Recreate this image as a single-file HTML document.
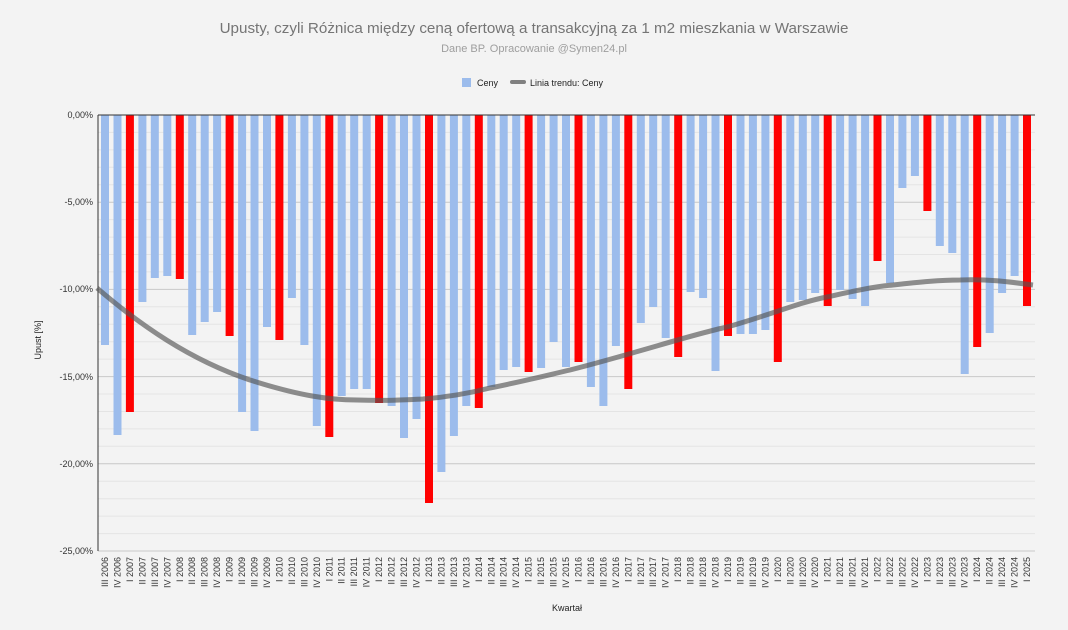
<!DOCTYPE html>
<html><head><meta charset="utf-8"><style>
html,body{margin:0;padding:0;background:#f3f3f3;}
svg{display:block;font-family:"Liberation Sans",Arial,sans-serif;}
</style></head><body>
<svg width="1068" height="630" viewBox="0 0 1068 630" xmlns="http://www.w3.org/2000/svg">
<rect width="1068" height="630" fill="#f3f3f3"/>
<text x="534" y="33" text-anchor="middle" font-size="15.2" fill="#757575">Upusty, czyli Różnica między ceną ofertową a transakcyjną za 1 m2 mieszkania w Warszawie</text>
<text x="534" y="52" text-anchor="middle" font-size="11" fill="#9e9e9e">Dane BP. Opracowanie @Symen24.pl</text>
<rect x="462" y="78" width="9" height="9" fill="#9cbcec"/>
<text x="477" y="86" font-size="9" fill="#222">Ceny</text>
<line x1="512" y1="82" x2="524" y2="82" stroke="#808080" stroke-width="4" stroke-linecap="round"/>
<text x="530" y="86" font-size="9" fill="#222">Linia trendu: Ceny</text>
<g stroke="#e4e4e4" stroke-width="1">
<line x1="98" y1="132.4" x2="1035" y2="132.4"/><line x1="98" y1="149.9" x2="1035" y2="149.9"/><line x1="98" y1="167.3" x2="1035" y2="167.3"/><line x1="98" y1="184.8" x2="1035" y2="184.8"/>
<line x1="98" y1="219.6" x2="1035" y2="219.6"/><line x1="98" y1="237.1" x2="1035" y2="237.1"/><line x1="98" y1="254.5" x2="1035" y2="254.5"/><line x1="98" y1="271.9" x2="1035" y2="271.9"/>
<line x1="98" y1="306.8" x2="1035" y2="306.8"/><line x1="98" y1="324.3" x2="1035" y2="324.3"/><line x1="98" y1="341.7" x2="1035" y2="341.7"/><line x1="98" y1="359.1" x2="1035" y2="359.1"/>
<line x1="98" y1="394" x2="1035" y2="394"/><line x1="98" y1="411.5" x2="1035" y2="411.5"/><line x1="98" y1="428.9" x2="1035" y2="428.9"/><line x1="98" y1="446.3" x2="1035" y2="446.3"/>
<line x1="98" y1="481.2" x2="1035" y2="481.2"/><line x1="98" y1="498.7" x2="1035" y2="498.7"/><line x1="98" y1="516.1" x2="1035" y2="516.1"/><line x1="98" y1="533.6" x2="1035" y2="533.6"/>
</g>
<g stroke="#c8c8c8" stroke-width="1">
<line x1="98" y1="202.2" x2="1035" y2="202.2"/><line x1="98" y1="289.4" x2="1035" y2="289.4"/><line x1="98" y1="376.6" x2="1035" y2="376.6"/><line x1="98" y1="463.8" x2="1035" y2="463.8"/><line x1="98" y1="551" x2="1035" y2="551"/>
</g>
<g font-size="9" fill="#333" text-anchor="end">
<text x="93" y="118">0,00%</text><text x="93" y="205">-5,00%</text><text x="93" y="292">-10,00%</text><text x="93" y="380">-15,00%</text><text x="93" y="467">-20,00%</text><text x="93" y="554">-25,00%</text>
</g>
<text transform="translate(41,340) rotate(-90)" text-anchor="middle" font-size="9" fill="#222">Upust [%]</text>
<text x="567" y="611" text-anchor="middle" font-size="9" fill="#222">Kwartał</text>
<g fill="#9cbcec">
<rect x="101" y="115" width="8" height="230"/>
<rect x="113.5" y="115" width="8" height="320"/>
<rect x="138.4" y="115" width="8" height="187"/>
<rect x="150.8" y="115" width="8" height="163"/>
<rect x="163.3" y="115" width="8" height="161"/>
<rect x="188.2" y="115" width="8" height="220"/>
<rect x="200.7" y="115" width="8" height="207"/>
<rect x="213.1" y="115" width="8" height="197"/>
<rect x="238.1" y="115" width="8" height="297"/>
<rect x="250.5" y="115" width="8" height="316"/>
<rect x="263" y="115" width="8" height="212"/>
<rect x="287.9" y="115" width="8" height="183"/>
<rect x="300.4" y="115" width="8" height="230"/>
<rect x="312.8" y="115" width="8" height="311"/>
<rect x="337.7" y="115" width="8" height="281"/>
<rect x="350.2" y="115" width="8" height="274"/>
<rect x="362.7" y="115" width="8" height="274"/>
<rect x="387.6" y="115" width="8" height="291"/>
<rect x="400" y="115" width="8" height="323"/>
<rect x="412.5" y="115" width="8" height="304"/>
<rect x="437.4" y="115" width="8" height="357"/>
<rect x="449.9" y="115" width="8" height="321"/>
<rect x="462.3" y="115" width="8" height="291"/>
<rect x="487.3" y="115" width="8" height="272"/>
<rect x="499.7" y="115" width="8" height="255"/>
<rect x="512.2" y="115" width="8" height="252"/>
<rect x="537.1" y="115" width="8" height="253"/>
<rect x="549.6" y="115" width="8" height="227"/>
<rect x="562" y="115" width="8" height="252"/>
<rect x="586.9" y="115" width="8" height="272"/>
<rect x="599.4" y="115" width="8" height="291"/>
<rect x="611.9" y="115" width="8" height="231"/>
<rect x="636.8" y="115" width="8" height="208"/>
<rect x="649.2" y="115" width="8" height="192"/>
<rect x="661.7" y="115" width="8" height="223"/>
<rect x="686.6" y="115" width="8" height="177"/>
<rect x="699.1" y="115" width="8" height="183"/>
<rect x="711.5" y="115" width="8" height="256"/>
<rect x="736.5" y="115" width="8" height="219"/>
<rect x="748.9" y="115" width="8" height="219"/>
<rect x="761.4" y="115" width="8" height="215"/>
<rect x="786.3" y="115" width="8" height="187"/>
<rect x="798.8" y="115" width="8" height="185"/>
<rect x="811.2" y="115" width="8" height="178"/>
<rect x="836.1" y="115" width="8" height="175"/>
<rect x="848.6" y="115" width="8" height="184"/>
<rect x="861.1" y="115" width="8" height="191"/>
<rect x="886" y="115" width="8" height="168"/>
<rect x="898.4" y="115" width="8" height="73"/>
<rect x="910.9" y="115" width="8" height="61"/>
<rect x="935.8" y="115" width="8" height="131"/>
<rect x="948.3" y="115" width="8" height="138"/>
<rect x="960.7" y="115" width="8" height="259"/>
<rect x="985.7" y="115" width="8" height="218"/>
<rect x="998.1" y="115" width="8" height="178"/>
<rect x="1010.6" y="115" width="8" height="161"/>
</g>
<g fill="#ff0000">
<rect x="125.9" y="115" width="8" height="297"/>
<rect x="175.8" y="115" width="8" height="164"/>
<rect x="225.6" y="115" width="8" height="221"/>
<rect x="275.4" y="115" width="8" height="225"/>
<rect x="325.3" y="115" width="8" height="322"/>
<rect x="375.1" y="115" width="8" height="288"/>
<rect x="425" y="115" width="8" height="388"/>
<rect x="474.8" y="115" width="8" height="293"/>
<rect x="524.6" y="115" width="8" height="257"/>
<rect x="574.5" y="115" width="8" height="247"/>
<rect x="624.3" y="115" width="8" height="274"/>
<rect x="674.2" y="115" width="8" height="242"/>
<rect x="724" y="115" width="8" height="221"/>
<rect x="773.8" y="115" width="8" height="247"/>
<rect x="823.7" y="115" width="8" height="191"/>
<rect x="873.5" y="115" width="8" height="146"/>
<rect x="923.4" y="115" width="8" height="96"/>
<rect x="973.2" y="115" width="8" height="232"/>
<rect x="1023" y="115" width="8" height="191"/>
</g>
<line x1="98" y1="115" x2="1035" y2="115" stroke="#333" stroke-width="1"/>
<line x1="98" y1="115" x2="98" y2="551" stroke="#333" stroke-width="1"/>
<path d="M97,288 C140,325 190,360 250,380 C300,396 330,400 357,400 C385,401 400,400 423,399 C450,397 470,393 490,388 C520,382 540,377 570,370 C640,352 690,335 727,327 C770,315 800,302 827,297 C850,292 870,287 893,285 C920,282 940,280 960,280 C990,279 1010,282 1033,285" fill="none" stroke="#555" stroke-opacity="0.65" stroke-width="5"/>
<g font-size="9" fill="#333" text-anchor="end">
<text transform="translate(108,557) rotate(-90)">III 2006</text>
<text transform="translate(120.5,557) rotate(-90)">IV 2006</text>
<text transform="translate(132.9,557) rotate(-90)">I 2007</text>
<text transform="translate(145.4,557) rotate(-90)">II 2007</text>
<text transform="translate(157.8,557) rotate(-90)">III 2007</text>
<text transform="translate(170.3,557) rotate(-90)">IV 2007</text>
<text transform="translate(182.8,557) rotate(-90)">I 2008</text>
<text transform="translate(195.2,557) rotate(-90)">II 2008</text>
<text transform="translate(207.7,557) rotate(-90)">III 2008</text>
<text transform="translate(220.1,557) rotate(-90)">IV 2008</text>
<text transform="translate(232.6,557) rotate(-90)">I 2009</text>
<text transform="translate(245.1,557) rotate(-90)">II 2009</text>
<text transform="translate(257.5,557) rotate(-90)">III 2009</text>
<text transform="translate(270,557) rotate(-90)">IV 2009</text>
<text transform="translate(282.4,557) rotate(-90)">I 2010</text>
<text transform="translate(294.9,557) rotate(-90)">II 2010</text>
<text transform="translate(307.4,557) rotate(-90)">III 2010</text>
<text transform="translate(319.8,557) rotate(-90)">IV 2010</text>
<text transform="translate(332.3,557) rotate(-90)">I 2011</text>
<text transform="translate(344.7,557) rotate(-90)">II 2011</text>
<text transform="translate(357.2,557) rotate(-90)">III 2011</text>
<text transform="translate(369.7,557) rotate(-90)">IV 2011</text>
<text transform="translate(382.1,557) rotate(-90)">I 2012</text>
<text transform="translate(394.6,557) rotate(-90)">II 2012</text>
<text transform="translate(407,557) rotate(-90)">III 2012</text>
<text transform="translate(419.5,557) rotate(-90)">IV 2012</text>
<text transform="translate(432,557) rotate(-90)">I 2013</text>
<text transform="translate(444.4,557) rotate(-90)">II 2013</text>
<text transform="translate(456.9,557) rotate(-90)">III 2013</text>
<text transform="translate(469.3,557) rotate(-90)">IV 2013</text>
<text transform="translate(481.8,557) rotate(-90)">I 2014</text>
<text transform="translate(494.3,557) rotate(-90)">II 2014</text>
<text transform="translate(506.7,557) rotate(-90)">III 2014</text>
<text transform="translate(519.2,557) rotate(-90)">IV 2014</text>
<text transform="translate(531.6,557) rotate(-90)">I 2015</text>
<text transform="translate(544.1,557) rotate(-90)">II 2015</text>
<text transform="translate(556.6,557) rotate(-90)">III 2015</text>
<text transform="translate(569,557) rotate(-90)">IV 2015</text>
<text transform="translate(581.5,557) rotate(-90)">I 2016</text>
<text transform="translate(593.9,557) rotate(-90)">II 2016</text>
<text transform="translate(606.4,557) rotate(-90)">III 2016</text>
<text transform="translate(618.9,557) rotate(-90)">IV 2016</text>
<text transform="translate(631.3,557) rotate(-90)">I 2017</text>
<text transform="translate(643.8,557) rotate(-90)">II 2017</text>
<text transform="translate(656.2,557) rotate(-90)">III 2017</text>
<text transform="translate(668.7,557) rotate(-90)">IV 2017</text>
<text transform="translate(681.2,557) rotate(-90)">I 2018</text>
<text transform="translate(693.6,557) rotate(-90)">II 2018</text>
<text transform="translate(706.1,557) rotate(-90)">III 2018</text>
<text transform="translate(718.5,557) rotate(-90)">IV 2018</text>
<text transform="translate(731,557) rotate(-90)">I 2019</text>
<text transform="translate(743.5,557) rotate(-90)">II 2019</text>
<text transform="translate(755.9,557) rotate(-90)">III 2019</text>
<text transform="translate(768.4,557) rotate(-90)">IV 2019</text>
<text transform="translate(780.8,557) rotate(-90)">I 2020</text>
<text transform="translate(793.3,557) rotate(-90)">II 2020</text>
<text transform="translate(805.8,557) rotate(-90)">III 2020</text>
<text transform="translate(818.2,557) rotate(-90)">IV 2020</text>
<text transform="translate(830.7,557) rotate(-90)">I 2021</text>
<text transform="translate(843.1,557) rotate(-90)">II 2021</text>
<text transform="translate(855.6,557) rotate(-90)">III 2021</text>
<text transform="translate(868.1,557) rotate(-90)">IV 2021</text>
<text transform="translate(880.5,557) rotate(-90)">I 2022</text>
<text transform="translate(893,557) rotate(-90)">II 2022</text>
<text transform="translate(905.4,557) rotate(-90)">III 2022</text>
<text transform="translate(917.9,557) rotate(-90)">IV 2022</text>
<text transform="translate(930.4,557) rotate(-90)">I 2023</text>
<text transform="translate(942.8,557) rotate(-90)">II 2023</text>
<text transform="translate(955.3,557) rotate(-90)">III 2023</text>
<text transform="translate(967.7,557) rotate(-90)">IV 2023</text>
<text transform="translate(980.2,557) rotate(-90)">I 2024</text>
<text transform="translate(992.7,557) rotate(-90)">II 2024</text>
<text transform="translate(1005.1,557) rotate(-90)">III 2024</text>
<text transform="translate(1017.6,557) rotate(-90)">IV 2024</text>
<text transform="translate(1030,557) rotate(-90)">I 2025</text>
</g>
</svg>
</body></html>
